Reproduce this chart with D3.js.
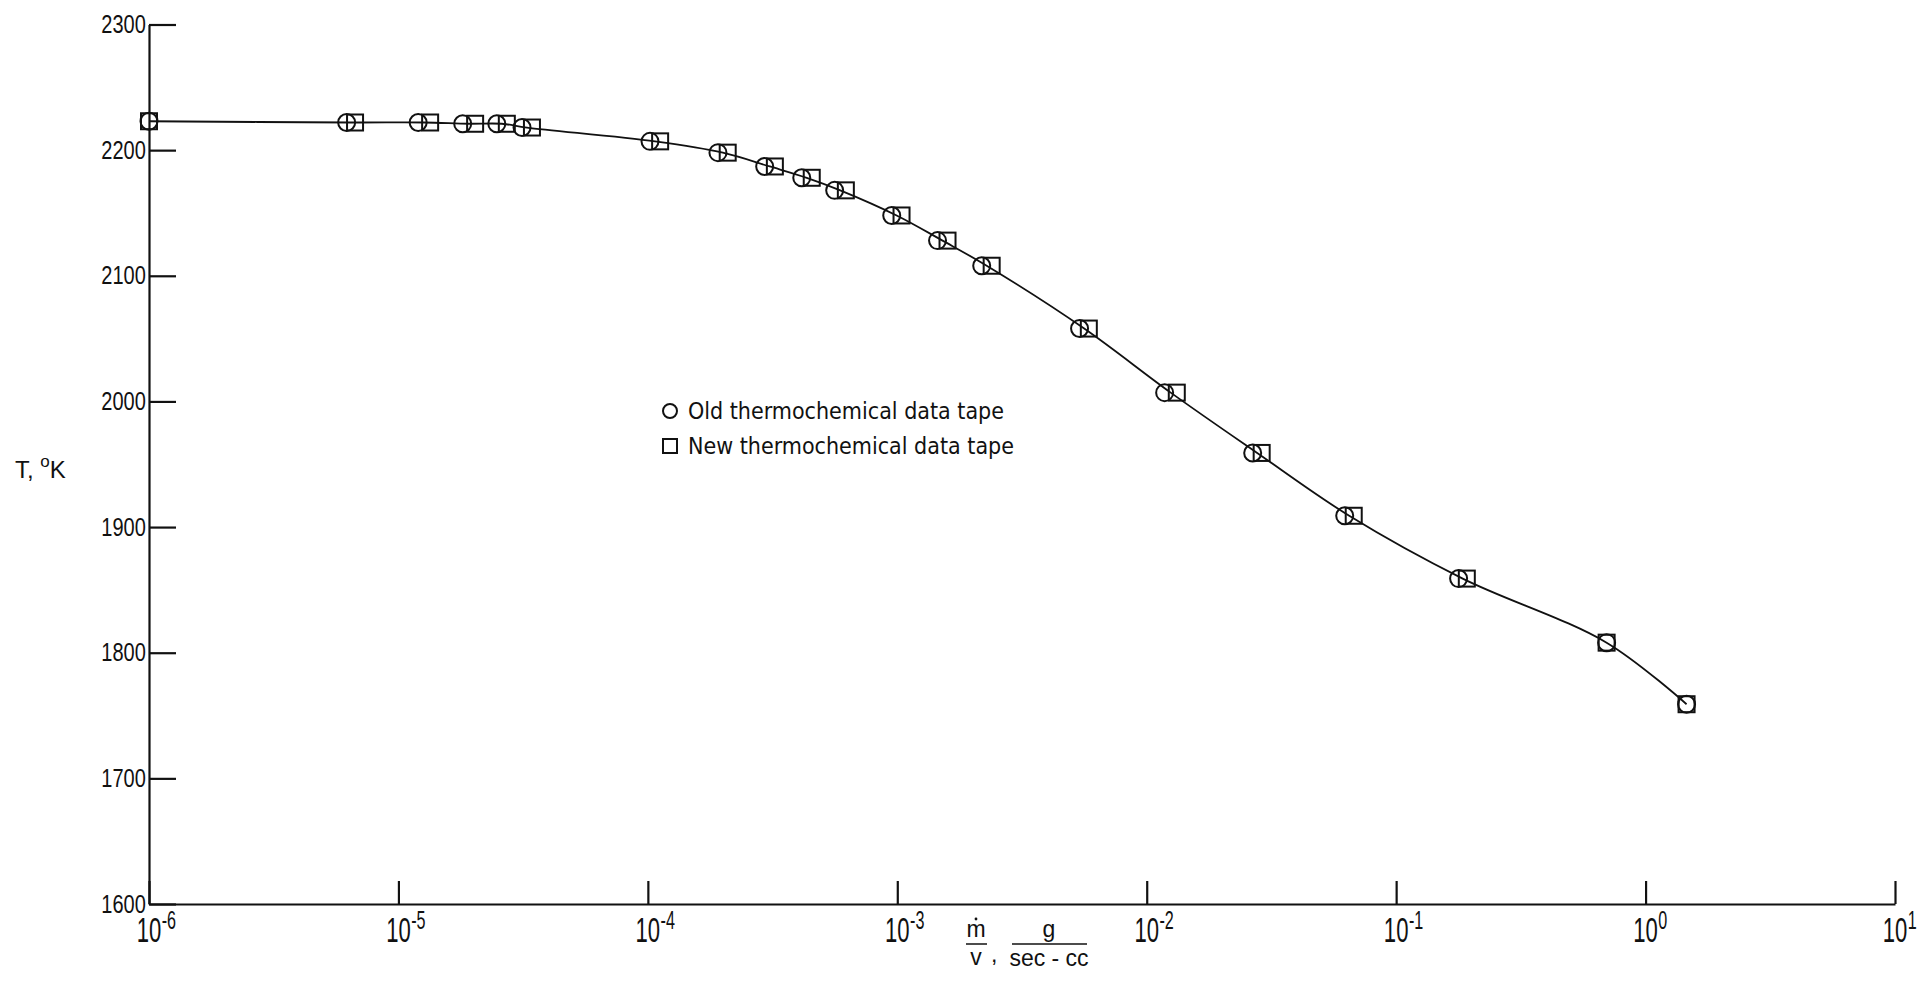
<!DOCTYPE html>
<html>
<head>
<meta charset="utf-8">
<script src="https://d3js.org/d3.v7.min.js"></script>
<style>
  body { margin: 0; background: #fff; }
  svg { display: block; }
  .axis path, .axis line { stroke: #111; stroke-width: 2.2px; }
  .axis text { font-family: "Liberation Sans", sans-serif; font-size: 25px; fill: #111; }
  .xlab { font-family: "Liberation Sans", sans-serif; fill: #111; }
  .curve { fill: none; stroke: #111; stroke-width: 1.8px; }
  .old, .new { fill: none; stroke: #111; stroke-width: 2px; }
  .legend text { font-family: "DejaVu Sans Condensed", "DejaVu Sans", sans-serif; font-size: 23px; fill: #111; }
</style>
</head>
<body>
<svg id="chart" width="1920" height="1005"></svg>
<script>
// flow rate m/v (g/sec-cc) for each run, old and new thermochemical tapes
var oldFlow = [1.0e-6, 6.2e-6, 1.2e-5, 1.81e-5, 2.48e-5, 3.13e-5, 1.02e-4, 1.91e-4, 2.94e-4,
               4.14e-4, 5.61e-4, 9.5e-4, 1.45e-3, 2.18e-3, 5.38e-3, 1.18e-2, 2.66e-2, 6.22e-2,
               0.178, 0.698, 1.46];
var newFlow = [1.0e-6, 6.7e-6, 1.34e-5, 2.03e-5, 2.72e-5, 3.43e-5, 1.12e-4, 2.09e-4, 3.23e-4,
               4.54e-4, 6.22e-4, 1.04e-3, 1.59e-3, 2.39e-3, 5.86e-3, 1.32e-2, 2.89e-2, 6.76e-2,
               0.192, 0.698, 1.46];
// temperature, K
var temps = [2223, 2222, 2222, 2221, 2221, 2218, 2207, 2198, 2187, 2178, 2168, 2148, 2128,
             2108, 2058, 2007, 1959, 1909, 1859, 1808, 1759];

var yTicks = [1600, 1700, 1800, 1900, 2000, 2100, 2200, 2300];
var xExponents = [-6, -5, -4, -3, -2, -1, 0, 1];
var legendLabels = ["Old thermochemical data tape", "New thermochemical data tape"];

var svg = d3.select("#chart");

var x = d3.scaleLog().domain([1e-6, 10]).range([149, 1895]);
var y = d3.scaleLinear().domain([1600, 2300]).range([904, 24.5]);

// y axis, ticks pointing into the plot
svg.append("g")
    .attr("class", "axis")
    .attr("transform", "translate(" + x(1e-6) + ",0)")
    .call(d3.axisLeft(y).tickValues(yTicks).tickFormat(d3.format("d"))
      .tickSize(-27).tickSizeOuter(0).tickPadding(4))
    .selectAll("text")
    .attr("transform", "scale(0.8,1)");

// x axis, ticks pointing up
svg.append("g")
    .attr("class", "axis")
    .attr("transform", "translate(0," + y(1600) + ")")
    .call(d3.axisBottom(x).tickValues(xExponents.map(e => Math.pow(10, e)))
      .tickSize(-23).tickSizeOuter(0).tickFormat(""));

// decade labels 10^n
var xl = svg.selectAll(".xtick")
    .data(xExponents)
    .enter().append("g")
    .attr("class", "xlab")
    .attr("transform", d => "translate(" + x(Math.pow(10, d)) + ",942) scale(0.85,1.35)");
xl.append("text")
    .attr("text-anchor", "middle")
    .style("font-size", "26px")
    .text("10");
xl.append("text")
    .attr("x", 15)
    .attr("y", -10)
    .style("font-size", "19px")
    .text(d => d < 0 ? "-" + Math.abs(d) : d);

// axis titles
var yt = svg.append("text")
    .attr("class", "xlab")
    .attr("x", 15)
    .attr("y", 478)
    .style("font-size", "24px");
yt.append("tspan").text("T,  ");
yt.append("tspan").attr("dy", -11).style("font-size", "17px").text("o");
yt.append("tspan").attr("dy", 11).text("K");

var xt = svg.append("g").attr("class", "xlab").style("font-size", "23px");
xt.append("text").attr("x", 976).attr("y", 937).attr("text-anchor", "middle").text("m");
xt.append("circle").attr("cx", 976).attr("cy", 919).attr("r", 1.4).attr("fill", "#111");
xt.append("line").attr("x1", 966).attr("x2", 987).attr("y1", 944).attr("y2", 944)
    .attr("stroke", "#111").attr("stroke-width", 1.5);
xt.append("text").attr("x", 976).attr("y", 965).attr("text-anchor", "middle").text("v");
xt.append("text").attr("x", 991).attr("y", 962).text(",");
xt.append("text").attr("x", 1049).attr("y", 937).attr("text-anchor", "middle").text("g");
xt.append("line").attr("x1", 1012).attr("x2", 1087).attr("y1", 944).attr("y2", 944)
    .attr("stroke", "#111").attr("stroke-width", 1.5);
xt.append("text").attr("x", 1049).attr("y", 966).attr("text-anchor", "middle").text("sec - cc");

// fitted curve through the data
var pts = temps.map((t, i) => ({ px: (x(oldFlow[i]) + x(newFlow[i])) / 2, py: y(t) }));
svg.append("path")
    .datum(pts)
    .attr("class", "curve")
    .attr("d", d3.line().curve(d3.curveCatmullRom.alpha(0.5)).x(d => d.px).y(d => d.py));

// symbols
svg.selectAll(".old")
    .data(temps)
    .enter().append("circle")
    .attr("class", "old")
    .attr("cx", (d, i) => x(oldFlow[i]))
    .attr("cy", d => y(d))
    .attr("r", 8.5);

svg.selectAll(".new")
    .data(temps)
    .enter().append("rect")
    .attr("class", "new")
    .attr("x", (d, i) => x(newFlow[i]) - 8)
    .attr("y", d => y(d) - 8)
    .attr("width", 16)
    .attr("height", 16);

// legend
var lg = svg.append("g").attr("class", "legend").attr("transform", "translate(670,411)");
lg.append("circle").attr("class", "old").attr("r", 7).attr("cx", 0).attr("cy", 0);
lg.append("rect").attr("class", "new").attr("x", -7).attr("y", 28).attr("width", 14).attr("height", 14);
lg.selectAll("text")
    .data(legendLabels)
    .enter().append("text")
    .attr("x", 18)
    .attr("y", (d, i) => 8 + i * 35)
    .text(d => d);
</script>
</body>
</html>
